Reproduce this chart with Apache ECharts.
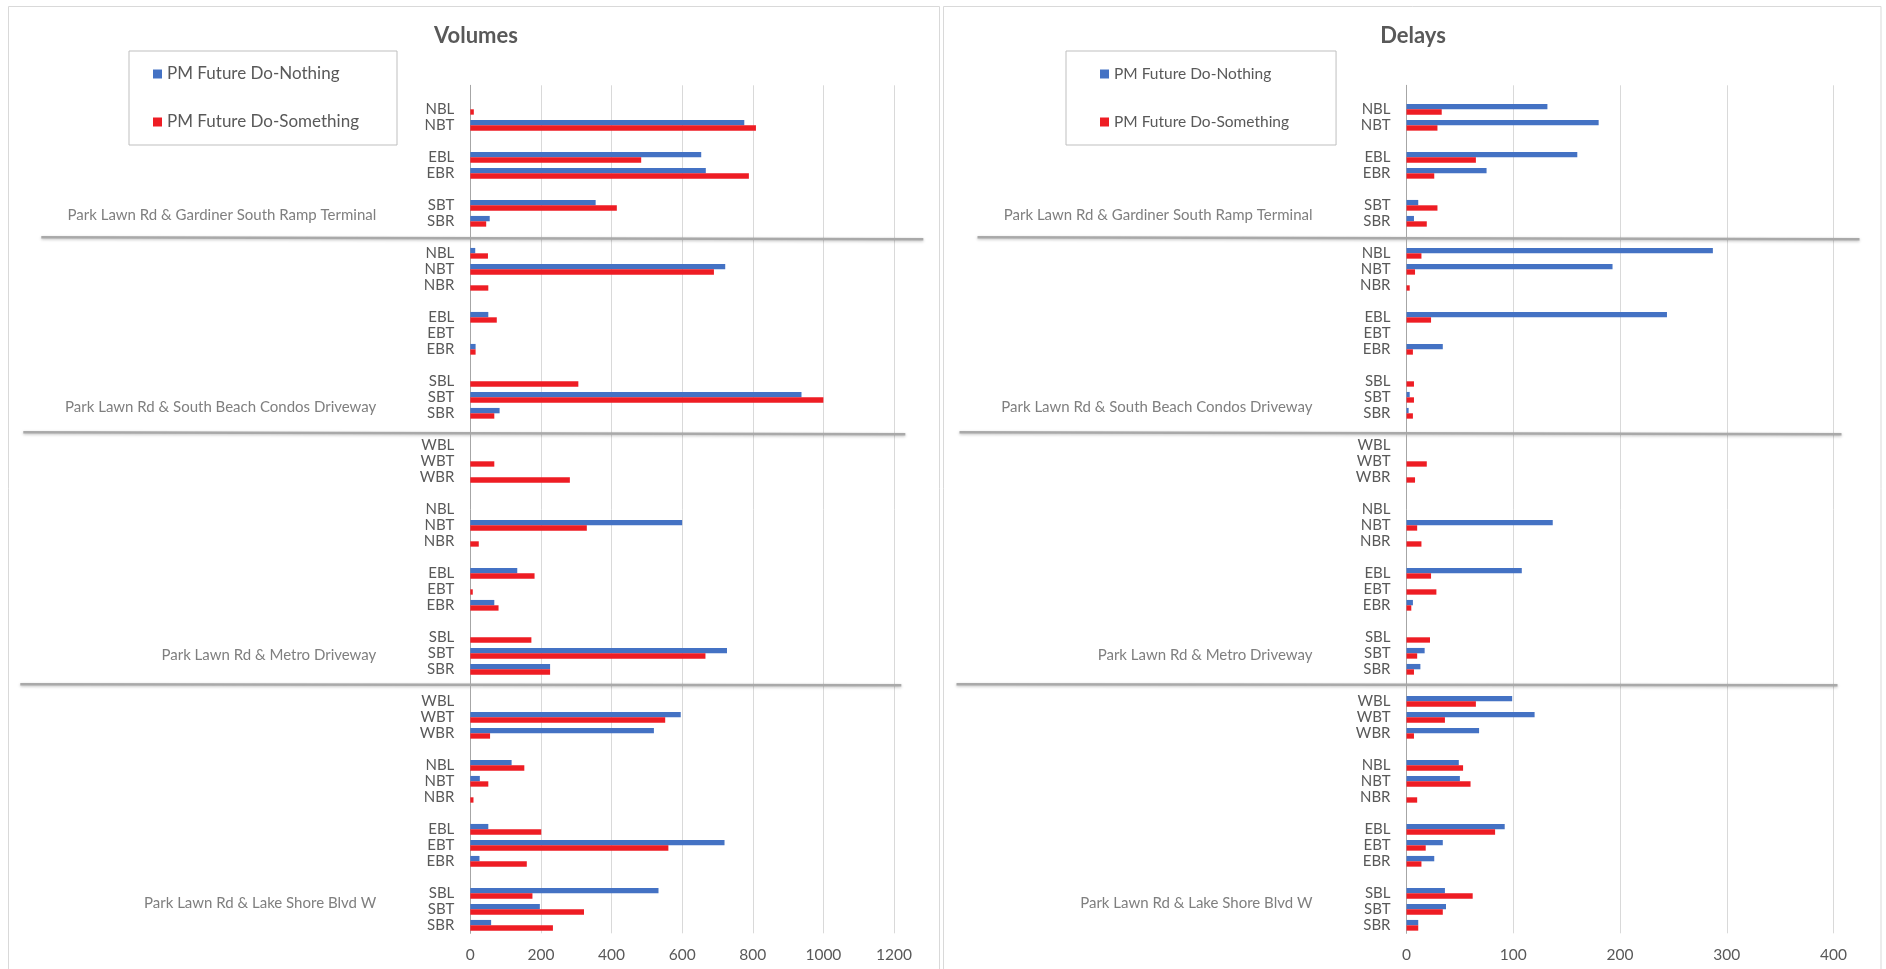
<!DOCTYPE html>
<html>
<head>
<meta charset="utf-8">
<script src="https://cdn.jsdelivr.net/npm/echarts@6/dist/echarts.min.js"></script>
<style>
  html, body { margin: 0; padding: 0; background: #ffffff; }
  #chart { width: 1886px; height: 969px; }
</style>
</head>
<body>
<div id="chart"></div>
<script>
// ---- data ---------------------------------------------------------------
const seriesNames = ['PM Future Do-Nothing', 'PM Future Do-Something'];
const chartTitles = ['Volumes', 'Delays'];

const intersections = [
  'Park Lawn Rd & Gardiner South Ramp Terminal',
  'Park Lawn Rd & South Beach Condos Driveway',
  'Park Lawn Rd & Metro Driveway',
  'Park Lawn Rd & Lake Shore Blvd W'
];

// movement rows, top to bottom ('' = spacer row)
const movements = [
  '', 'NBL', 'NBT', '', 'EBL', 'EBR', '', 'SBT', 'SBR',
  '',
  'NBL', 'NBT', 'NBR', '', 'EBL', 'EBT', 'EBR', '', 'SBL', 'SBT', 'SBR',
  '',
  'WBL', 'WBT', 'WBR', '', 'NBL', 'NBT', 'NBR', '', 'EBL', 'EBT', 'EBR', '', 'SBL', 'SBT', 'SBR',
  '',
  'WBL', 'WBT', 'WBR', '', 'NBL', 'NBT', 'NBR', '', 'EBL', 'EBT', 'EBR', '', 'SBL', 'SBT', 'SBR'
];

const volumeDoNothing = [
  null, 0, 776, null, 654, 667, null, 355, 55,
  null,
  14, 722, 0, null, 51, 0, 15, null, 0, 938, 83,
  null,
  0, 0, 0, null, 0, 600, 0, null, 133, 0, 68, null, 0, 727, 226,
  null,
  0, 596, 520, null, 117, 27, 0, null, 51, 720, 26, null, 533, 197, 59
];
const volumeDoSomething = [
  null, 10, 809, null, 484, 789, null, 415, 45,
  null,
  50, 690, 51, null, 75, 0, 15, null, 306, 1000, 68,
  null,
  0, 68, 282, null, 0, 330, 24, null, 182, 7, 80, null, 173, 666, 226,
  null,
  0, 552, 56, null, 153, 51, 9, null, 201, 561, 160, null, 176, 322, 234
];
const delayDoNothing = [
  null, 132, 180, null, 160, 75, null, 11, 7,
  null,
  287, 193, 0, null, 244, 0, 34, null, 0, 3, 2,
  null,
  0, 0, 0, null, 0, 137, 0, null, 108, 0, 6, null, 0, 17, 13,
  null,
  99, 120, 68, null, 49, 50, 0, null, 92, 34, 26, null, 36, 37, 11
];
const delayDoSomething = [
  null, 33, 29, null, 65, 26, null, 29, 19,
  null,
  14, 8, 3, null, 23, 0, 6, null, 7, 7, 6,
  null,
  0, 19, 8, null, 0, 10, 14, null, 23, 28, 4.5, null, 22, 10, 7,
  null,
  65, 36, 7, null, 53, 60, 10, null, 83, 18, 14, null, 62, 34, 11
];

const volumeTicks = [0, 200, 400, 600, 800, 1000, 1200];
const delayTicks = [0, 100, 200, 300, 400];

// ---- layout -------------------------------------------------------------
const FONT = 'Lato';
const BLUE = '#4472C4';
const RED = '#EE1D24';
const TEXT = '#595959';
const GRID_TOP = 85.3;
const GRID_HEIGHT = 848;

// rows the intersection names sit beside (pair = midway between the two)
const intersectionLabelRows = [[7, 8], [19, 20], [35, 35], [50, 51]];
// spacer rows that carry the divider between intersections
const dividerRows = [9, 21, 37];
// divider extents left/right of the value axis origin, and end nudges (y)
const dividerExtent = [[429, 453], [447, 435], [450, 431]];
const dividerNudge = [[0, 2], [3, 5], [-1, 0]];

function valueAxis(idx, ticks) {
  return {
    type: 'value', gridIndex: idx,
    min: ticks[0], max: ticks[ticks.length - 1], interval: ticks[1] - ticks[0],
    axisLine: { show: false }, axisTick: { show: false },
    splitLine: { show: true, lineStyle: { color: '#d9d9d9', width: 1 } },
    axisLabel: { color: TEXT, fontFamily: FONT, fontSize: 15.5, margin: 14,
                 formatter: function (v) { return String(v); } }
  };
}
function categoryAxis(idx) {
  return {
    type: 'category', gridIndex: idx, inverse: true, data: movements,
    axisLine: { show: true, lineStyle: { color: '#a6a6a6', width: 1 } },
    axisTick: { show: false },
    axisLabel: { color: TEXT, fontFamily: FONT, fontSize: 15, margin: 16, interval: 0 }
  };
}
function barSeries(name, color, idx, data) {
  return {
    type: 'bar', name: name, xAxisIndex: idx, yAxisIndex: idx, data: data,
    itemStyle: { color: color },
    barGap: '0%', barCategoryGap: '33%', silent: true
  };
}
function legendBox(left, padding, fontSize) {
  return {
    orient: 'vertical', left: left, top: 51, padding: padding, itemGap: 28,
    itemWidth: 9, itemHeight: 9, icon: 'rect',
    borderColor: '#bfbfbf', borderWidth: 1,
    data: seriesNames,
    textStyle: { color: TEXT, fontFamily: FONT, fontSize: fontSize, lineHeight: 20 }
  };
}

const chart = echarts.init(document.getElementById('chart'), null, { renderer: 'canvas' });

chart.setOption({
  animation: false,
  backgroundColor: '#ffffff',
  legend: [
    legendBox(129, [13, 38, 13, 24], 17),
    legendBox(1066, [13, 47, 13, 34], 15.5)
  ],
  grid: [
    { left: 470.3, top: GRID_TOP, width: 423.7, height: GRID_HEIGHT },
    { left: 1406.5, top: GRID_TOP, width: 427, height: GRID_HEIGHT }
  ],
  xAxis: [valueAxis(0, volumeTicks), valueAxis(1, delayTicks)],
  yAxis: [categoryAxis(0), categoryAxis(1)],
  series: [
    barSeries(seriesNames[0], BLUE, 0, volumeDoNothing),
    barSeries(seriesNames[1], RED, 0, volumeDoSomething),
    barSeries(seriesNames[0], BLUE, 1, delayDoNothing),
    barSeries(seriesNames[1], RED, 1, delayDoSomething)
  ]
});

// frames, titles, intersection names and dividers placed from the axes
const graphics = [
  { type: 'rect', silent: true, shape: { x: 8.5, y: 6.5, width: 931, height: 1000 },
    style: { fill: 'none', stroke: '#d9d9d9', lineWidth: 1 } },
  { type: 'rect', silent: true, shape: { x: 943.5, y: 6.5, width: 937.5, height: 1000 },
    style: { fill: 'none', stroke: '#d9d9d9', lineWidth: 1 } },
  { type: 'text', silent: true, x: 476, y: 36,
    style: { text: chartTitles[0], align: 'center', verticalAlign: 'middle',
             font: 'bold 22px ' + FONT, fill: TEXT } },
  { type: 'text', silent: true, x: 1413, y: 36,
    style: { text: chartTitles[1], align: 'center', verticalAlign: 'middle',
             font: 'bold 22px ' + FONT, fill: TEXT } }
];

[0, 1].forEach(function (g) {
  const origin = chart.convertToPixel({ xAxisIndex: g }, 0);
  const rowY = function (r) { return chart.convertToPixel({ yAxisIndex: g }, r); };

  intersections.forEach(function (name, i) {
    const pair = intersectionLabelRows[i];
    const y = (rowY(pair[0]) + rowY(pair[1])) / 2 + 2;
    graphics.push({
      type: 'text', silent: true, x: origin - 94, y: y,
      style: { text: name, align: 'right', verticalAlign: 'middle',
               font: '15px ' + FONT, fill: '#7f7f7f' }
    });
  });

  dividerRows.forEach(function (r, k) {
    const y = rowY(r);
    graphics.push({
      type: 'line', silent: true,
      shape: { x1: origin - dividerExtent[k][0], y1: y + dividerNudge[k][0],
               x2: origin + dividerExtent[k][1], y2: y + dividerNudge[k][1] },
      style: { stroke: '#a9a9a9', lineWidth: 2.5,
               shadowColor: 'rgba(0,0,0,0.25)', shadowBlur: 3, shadowOffsetY: 1 }
    });
  });
});

chart.setOption({ graphic: graphics });
</script>
</body>
</html>
